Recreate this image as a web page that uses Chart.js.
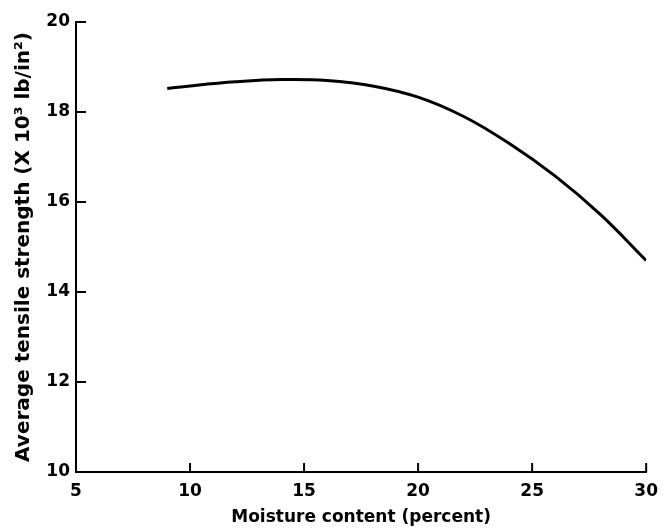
<!DOCTYPE html>
<html>
<head>
<meta charset="utf-8">
<script src="https://cdn.jsdelivr.net/npm/chart.js@4"></script>
<style>
  html, body { margin: 0; padding: 0; background: #fff; }
  #wrap { width: 667px; height: 528px; }
</style>
</head>
<body>
<div id="wrap"><canvas id="chart" width="667" height="528"></canvas></div>
<script>
// values
let moisture = [9, 10, 12, 14, 16, 18, 20, 22, 24, 26, 28, 30];
let strength = [18.52, 18.58, 18.67, 18.72, 18.70, 18.58, 18.33, 17.90, 17.30, 16.58, 15.72, 14.70];
let xTicks = [5, 10, 15, 20, 25, 30];
let yTicks = [10, 12, 14, 16, 18, 20];

let font = "'DejaVu Sans', sans-serif";

// ticks pointing into the plot, like the printed figure
const inwardTicks = {
  id: 'inwardTicks',
  afterDraw(chart) {
    let ctx = chart.ctx;
    let x = chart.scales.x, y = chart.scales.y;
    ctx.save();
    ctx.strokeStyle = '#000';
    ctx.lineWidth = 2;
    ctx.beginPath();
    xTicks.slice(1).forEach(v => {
      let px = x.getPixelForValue(v);
      ctx.moveTo(px, y.bottom);
      ctx.lineTo(px, y.bottom - 9);
    });
    yTicks.slice(1).forEach(v => {
      let py = y.getPixelForValue(v);
      ctx.moveTo(x.left, py);
      ctx.lineTo(x.left + 10, py);
    });
    ctx.stroke();
    ctx.restore();
  }
};

new Chart(document.getElementById("chart").getContext("2d"), {
  type: 'line',
  data: {
    datasets: [{
      data: moisture.map((m, i) => ({x: m, y: strength[i]})),
      borderColor: '#000',
      borderWidth: 3,
      pointRadius: 0,
      fill: false,
      tension: 0.4
    }]
  },
  options: {
    responsive: false,
    animation: false,
    layout: { padding: { top: 22, right: 20, left: 0, bottom: 0 } },
    plugins: { legend: { display: false }, tooltip: { enabled: false } },
    scales: {
      x: {
        type: 'linear',
        min: 5, max: 30,
        afterBuildTicks: s => { s.ticks = xTicks.map(v => ({value: v})); },
        afterFit: s => { s.height = 56; },
        grid: { display: false, drawTicks: false },
        border: { display: true, color: '#000', width: 2 },
        ticks: { color: '#000', padding: 9, font: { family: font, size: 17, weight: 'bold' } },
        title: {
          display: true,
          text: 'Moisture content (percent)',
          color: '#000',
          padding: { top: 4, bottom: 0 },
          font: { family: font, size: 17, weight: 'bold' }
        }
      },
      y: {
        min: 10, max: 20,
        afterBuildTicks: s => { s.ticks = yTicks.map(v => ({value: v})); },
        afterFit: s => { s.width = 76; },
        grid: { display: false, drawTicks: false },
        border: { display: true, color: '#000', width: 2 },
        ticks: { color: '#000', padding: 6, font: { family: font, size: 17, weight: 'bold' } },
        title: {
          display: true,
          text: 'Average tensile strength (X 10³ lb/in²)',
          color: '#000',
          padding: { top: 12, bottom: 6 },
          font: { family: font, size: 20, weight: 'bold' }
        }
      }
    }
  },
  plugins: [inwardTicks]
});
</script>
</body>
</html>
